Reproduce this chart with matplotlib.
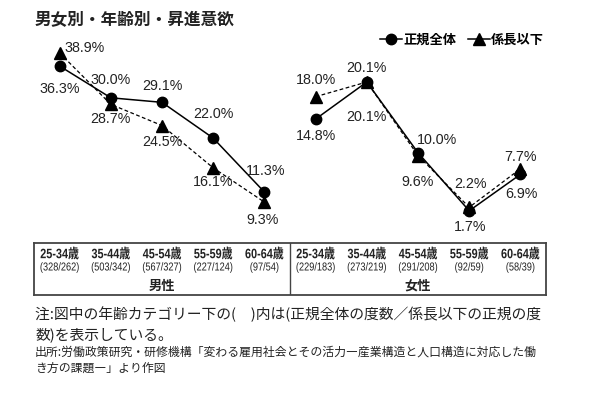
import numpy as np
import matplotlib as mpl
mpl.use('Agg')
from matplotlib import pyplot as plt
from matplotlib.lines import Line2D
from matplotlib.textpath import TextPath
from matplotlib.patches import PathPatch
from matplotlib.font_manager import FontProperties
from matplotlib.transforms import Affine2D

# ---------------- data ----------------
ages = ['25-34歳', '35-44歳', '45-54歳', '55-59歳', '60-64歳']
male_counts = ['(328/262)', '(503/342)', '(567/327)', '(227/124)', '(97/54)']
female_counts = ['(229/183)', '(273/219)', '(291/208)', '(92/59)', '(58/39)']
male_all = [36.3, 30.0, 29.1, 22.0, 11.3]      # 正規全体
male_staff = [38.9, 28.7, 24.5, 16.1, 9.3]     # 係長以下
female_all = [14.8, 20.1, 10.0, 1.7, 6.9]
female_staff = [18.0, 20.1, 9.6, 2.2, 7.7]
series_names = ['正規全体', '係長以下']

# ---------------- fonts ----------------
NUM = ['Liberation Sans', 'Noto Sans CJK JP']
JP = ['Noto Sans CJK JP', 'DejaVu Sans']

W, H = 590, 399
fig = plt.figure(figsize=(W / 100, H / 100), dpi=100)

def fx(px):
    return px / W

def fy(py):
    return 1 - py / H

top, bot = 40, 243
ax_m = fig.add_axes([fx(34), fy(bot), fx(256), (bot - top) / H])
ax_f = fig.add_axes([fx(290), fy(bot), fx(256), (bot - top) / H])

x = np.arange(len(ages))

ax_m.plot(x, male_staff, color='black', lw=0.9, ls=(0, (3, 2)), marker='^', ms=8, zorder=2)
ax_m.plot(x, male_all, color='black', lw=1.1, marker='o', ms=7.5, zorder=3)
ax_f.plot(x, female_staff, color='black', lw=0.9, ls=(0, (3, 2)), marker='^', ms=8, zorder=2)
ax_f.plot(x, female_all, color='black', lw=1.1, marker='o', ms=7.5, zorder=3)

ax_m.set_ylim((249 - bot) / 5.04, (249 - top) / 5.04)
ax_f.set_ylim((222.7 - bot) / 7.0, (222.7 - top) / 7.0)
for a in (ax_m, ax_f):
    a.set_xlim(-0.5, 4.5)
    a.axis('off')

def lab(a, xi, v, dx, dy, ha='center'):
    a.annotate(f'{v:.1f}%', (xi, v), xytext=(dx, dy), textcoords='offset pixels',
               ha=ha, va='center', fontsize=10.3, family=NUM, color='#222222')

# male labels (offsets in pixels; y up)
lab(ax_m, 0, male_staff[0], 5, 5, ha='left')
lab(ax_m, 0, male_all[0], 0, -23)
lab(ax_m, 1, male_all[1], 0, 18)
lab(ax_m, 1, male_staff[1], 0, -15)
lab(ax_m, 2, male_all[2], 0, 16)
lab(ax_m, 2, male_staff[2], 0, -16)
lab(ax_m, 3, male_all[3], 0, 24)
lab(ax_m, 3, male_staff[3], 0, -14)
lab(ax_m, 4, male_all[4], 1, 21)
lab(ax_m, 4, male_staff[4], -2, -18)

# female labels
lab(ax_f, 0, female_staff[0], 0, 17)
lab(ax_f, 0, female_all[0], 0, -17)
lab(ax_f, 1, female_all[1], 0, 14)
lab(ax_f, 1, female_staff[1], 0, -35)
lab(ax_f, 2, female_all[2], 19, 13)
lab(ax_f, 2, female_staff[2], 0, -27)
lab(ax_f, 3, female_staff[3], 1, 23)
lab(ax_f, 3, female_all[3], 1, -16)
lab(ax_f, 4, female_staff[4], 0, 12)
lab(ax_f, 4, female_all[4], 1, -20)

# ---------------- table ----------------
tb = fig.add_axes([fx(34), fy(295), fx(512), 52 / H])
tb.set_xlim(-0.5, 9.5)
tb.set_ylim(295, 243)
tb.set_xticks([])
tb.set_yticks([])
for s in tb.spines.values():
    s.set_color('#444444')
    s.set_linewidth(1.3)
tb.axvline(4.5, color='#444444', lw=1.0)

# condensed text drawn as path (narrow font look of the original)
def narrow_text(ax, xd, yd, s, size_px, sx, bold=False):
    fp = FontProperties(family=NUM, weight='bold' if bold else 'normal')
    tp = TextPath((0, 0), s, size=size_px, prop=fp)
    ext = tp.get_extents()
    cx, cy = ax.transData.transform((xd, yd))
    tr = (Affine2D().translate(-(ext.x0 + ext.x1) / 2, -(ext.y0 + ext.y1) / 2)
          .scale(sx, 1).translate(cx, cy))
    p = PathPatch(tp, transform=tr, color='#222222', lw=0)
    fig.add_artist(p)

fig.canvas.draw()
for i in range(5):
    narrow_text(tb, i, 253, ages[i], 13.6, 0.8, bold=True)
    narrow_text(tb, i + 5, 253, ages[i], 13.6, 0.8, bold=True)
    narrow_text(tb, i, 267.5, male_counts[i], 11.5, 0.8)
    narrow_text(tb, i + 5, 267.5, female_counts[i], 11.5, 0.8)
tb.text(2, 286, '男性', ha='center', va='center', fontsize=9.5, family=JP,
        weight='bold', color='#222222')
tb.text(7, 286, '女性', ha='center', va='center', fontsize=9.5, family=JP,
        weight='bold', color='#222222')

# ---------------- legend ----------------
handles = [Line2D([], [], color='black', lw=1.1, marker='o', ms=7.5),
           Line2D([], [], color='black', lw=1.1, marker='^', ms=8)]
leg = fig.legend(handles, series_names, loc='center', bbox_to_anchor=(fx(462), fy(40)),
                 ncol=2, frameon=False, handlelength=1.7, handletextpad=0.05,
                 columnspacing=0.9, prop={'family': JP, 'weight': 'bold', 'size': 9.5})

# ---------------- texts ----------------
fig.text(fx(35), fy(20), '男女別・年齢別・昇進意欲', ha='left', va='center',
         fontsize=12, weight='bold', family=JP, color='#222222')
fig.text(fx(35), fy(314), '注:図中の年齢カテゴリー下の(　)内は(正規全体の度数／係長以下の正規の度',
         ha='left', va='center', fontsize=10.65, family=JP, color='#222222')
fig.text(fx(35), fy(335), '数)を表示している。', ha='left', va='center',
         fontsize=10.65, family=JP, color='#222222')
fig.text(fx(35), fy(352), '出所:労働政策研究・研修機構「変わる雇用社会とその活力―産業構造と人口構造に対応した働',
         ha='left', va='center', fontsize=8.55, family=JP, color='#222222')
fig.text(fx(35), fy(368), 'き方の課題―」より作図', ha='left', va='center',
         fontsize=8.55, family=JP, color='#222222')

fig.savefig('out.png', dpi=100)
